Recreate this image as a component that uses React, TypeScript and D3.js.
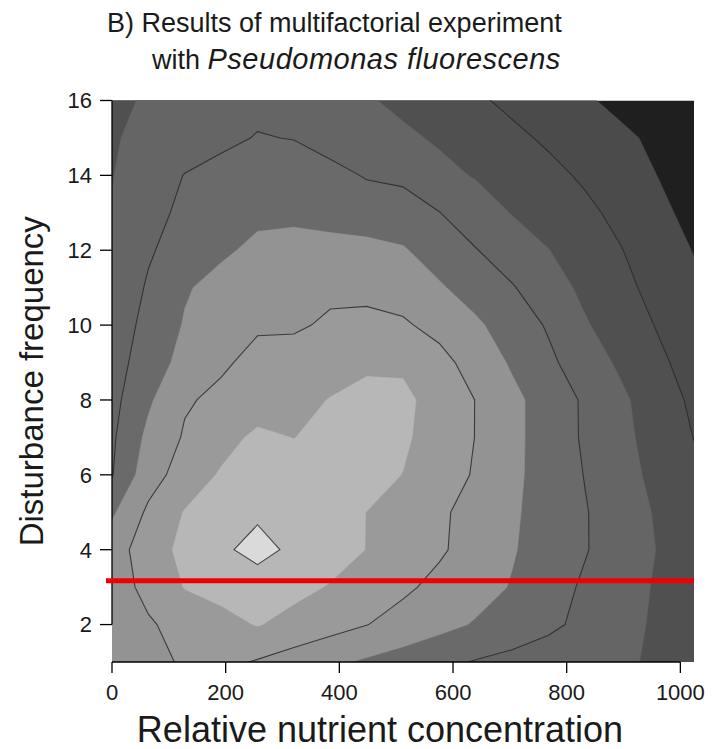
import React from "react";
import * as d3 from "d3";

// Grid of the experiment: nutrient concentration (columns) x disturbance frequency (rows, top to bottom)
const nutrient = [0, 64, 128, 192, 256, 320, 384, 448, 512, 576, 640, 704, 768, 832, 896, 960, 1024];
const frequency = [16, 15, 14, 13, 12, 11, 10, 9, 8, 7, 6, 5, 4, 3, 2, 1];

// Response surface (contour level index), one row per frequency
const row16 = [2.8, 3.1, 3.3, 3.55, 3.75, 3.7, 3.35, 3.09, 2.79, 2.46, 2.14, 1.8, 1.46, 1.11, 0.77, 0.43, 0.1];
const row15 = [2.93, 3.21, 3.5, 3.79, 4.05, 3.97, 3.67, 3.41, 3.17, 2.88, 2.54, 2.2, 1.86, 1.51, 1.17, 0.82, 0.48];
const row14 = [2.97, 3.49, 4.03, 4.3, 4.5, 4.5, 4.25, 3.94, 3.8, 3.26, 2.93, 2.58, 2.24, 1.87, 1.43, 0.99, 0.55];
const row13 = [3.06, 3.7, 4.2, 4.55, 4.8, 4.78, 4.55, 4.45, 4.45, 4.02, 3.49, 2.96, 2.58, 2.2, 1.76, 1.23, 0.72];
const row12 = [3.19, 3.9, 4.41, 4.85, 5.2, 5.35, 5.4, 5.3, 5.08, 4.57, 4.04, 3.51, 3.02, 2.51, 2.03, 1.49, 0.96];
const row11 = [3.32, 4.1, 4.91, 5.3, 5.55, 5.72, 5.8, 5.8, 5.6, 5.1, 4.6, 4.07, 3.43, 2.79, 2.25, 1.7, 1.2];
const row10 = [3.45, 4.29, 5.07, 5.33, 5.9, 5.86, 6.15, 6.2, 6.12, 5.71, 5.15, 4.54, 3.9, 3.09, 2.51, 1.94, 1.45];
const row9 = [3.58, 4.5, 5.31, 5.87, 6.25, 6.45, 6.65, 6.85, 6.85, 6.3, 5.61, 4.88, 4.19, 3.49, 2.83, 2.19, 1.62];
const row8 = [3.71, 4.85, 5.9, 6.2, 6.48, 6.75, 7.03, 7.25, 7.2, 6.64, 5.98, 5.24, 4.56, 3.87, 3.17, 2.48, 1.82];
const row7 = [3.85, 5.23, 6.1, 6.64, 7.2, 6.98, 7.35, 7.5, 7.15, 6.55, 5.98, 5.24, 4.56, 3.88, 3.25, 2.6, 1.98];
const row6 = [3.95, 5.57, 6.44, 7.1, 7.4, 7.5, 7.55, 7.4, 6.98, 6.45, 5.91, 5.21, 4.58, 3.97, 3.36, 2.73, 2.2];
const row5 = [4.85, 6.18, 7.05, 7.45, 7.8, 7.6, 7.35, 6.99, 6.57, 6.15, 5.67, 5.13, 4.6, 4.06, 3.48, 2.9, 2.4];
const row4 = [5.55, 6.5, 7.26, 7.78, 8.4, 7.75, 7.4, 6.98, 6.55, 6.12, 5.62, 5.07, 4.57, 4.06, 3.52, 2.97, 2.5];
const row3 = [5.55, 6.26, 7.04, 7.3, 7.4, 7.25, 6.94, 6.55, 6.16, 5.76, 5.36, 4.94, 4.4, 3.87, 3.39, 2.9, 2.45];
const row2 = [5.5, 5.9, 6.32, 6.7, 7.05, 6.7, 6.36, 6.02, 5.66, 5.28, 4.92, 4.55, 4.19, 3.77, 3.32, 2.85, 2.4];
const row1 = [5.45, 5.75, 6.1, 6.25, 5.92, 5.56, 5.2, 4.86, 4.55, 4.23, 3.94, 3.73, 3.52, 3.31, 3.1, 2.9, 2.6];
const surface = [row16, row15, row14, row13, row12, row11, row10, row9, row8, row7, row6, row5, row4, row3, row2, row1];

const fillLevels = [1, 2, 3, 4, 5, 6, 7, 8];
const lineLevels = [2, 4, 6, 8];
const bandColors = ["#1f1f1f", "#4b4b4b", "#505050", "#656565", "#6a6a6a", "#939393", "#9a9a9a", "#b7b7b7", "#dadada"];

const xTicks = [0, 200, 400, 600, 800, 1000];
const yTicks = [2, 4, 6, 8, 10, 12, 14, 16];
const markerFrequency = 3.17;

const W = 715;
const H = 749;
const left = 112;
const right = 694;
const top = 100.5;
const bottom = 662;
const FONT = "'Liberation Sans', Arial, Helvetica, sans-serif";

export default function App() {
  const x = d3.scaleLinear().domain([0, 1024]).range([left, right]);
  const y = d3.scaleLinear().domain([1, 16]).range([bottom, top]);

  const nx = nutrient.length;
  const ny = frequency.length;
  const values = surface.flat();
  const contours = d3.contours().size([nx, ny]).thresholds(fillLevels)(values);

  const gx = d3.scaleLinear().domain([0.5, nx - 0.5]).range([x(nutrient[0]), x(nutrient[nx - 1])]);
  const gy = d3.scaleLinear().domain([0.5, ny - 0.5]).range([y(frequency[0]), y(frequency[ny - 1])]);
  const path = d3.geoPath(
    d3.geoTransform({
      point(px: number, py: number) {
        (this as any).stream.point(gx(px), gy(py));
      },
    })
  );

  return (
    <svg width={W} height={H} style={{ position: "absolute", left: 0, top: 0, background: "#fff" }}>
      <defs>
        <clipPath id="plotClip">
          <rect x={left} y={top} width={right - left} height={bottom - top} />
        </clipPath>
      </defs>

      <text x={107} y={32} fontFamily={FONT} fontSize={27} fill="#1a1a1a">
        B) Results of multifactorial experiment
      </text>
      <text x={152} y={69} fontFamily={FONT} fontSize={27} fill="#1a1a1a">
        with{" "}
        <tspan fontStyle="italic" fontSize={29} letterSpacing={0.5}>
          Pseudomonas fluorescens
        </tspan>
      </text>

      <g clipPath="url(#plotClip)">
        <rect x={left} y={top} width={right - left} height={bottom - top} fill={bandColors[0]} />
        {contours.map((c, i) => (
          <path key={"f" + i} d={path(c as any) || ""} fill={bandColors[i + 1]} stroke={bandColors[i + 1]} strokeWidth={0.6} />
        ))}
        {contours
          .filter((c) => lineLevels.includes(c.value))
          .map((c, i) => (
            <path key={"l" + i} d={path(c as any) || ""} fill="none" stroke="#2a2a2a" strokeOpacity={0.85} strokeWidth={1.1} />
          ))}
      </g>

      {/* y axis */}
      <line x1={left} x2={left} y1={y(2)} y2={y(16)} stroke="#000" strokeWidth={1.3} />
      {yTicks.map((t) => (
        <g key={"yt" + t}>
          <line x1={left - 12} x2={left} y1={y(t)} y2={y(t)} stroke="#000" strokeWidth={1.3} />
          <text x={left - 20} y={y(t)} dy="0.36em" textAnchor="end" fontFamily={FONT} fontSize={22} fill="#1a1a1a">
            {t}
          </text>
        </g>
      ))}

      {/* x axis */}
      <line x1={x(0)} x2={x(1000)} y1={bottom} y2={bottom} stroke="#000" strokeWidth={1.3} />
      {xTicks.map((t) => (
        <g key={"xt" + t}>
          <line x1={x(t)} x2={x(t)} y1={bottom} y2={bottom + 11} stroke="#000" strokeWidth={1.3} />
          <text x={x(t)} y={700} textAnchor="middle" fontFamily={FONT} fontSize={22} fill="#1a1a1a">
            {t}
          </text>
        </g>
      ))}

      {/* threshold marker */}
      <line x1={106} x2={right} y1={y(markerFrequency)} y2={y(markerFrequency)} stroke="#f00000" strokeWidth={5} />

      <text x={380} y={742} textAnchor="middle" fontFamily={FONT} fontSize={36} fill="#1a1a1a">
        Relative nutrient concentration
      </text>
      <text
        transform={`translate(43, ${(top + bottom) / 2}) rotate(-90)`}
        textAnchor="middle"
        fontFamily={FONT}
        fontSize={33}
        fill="#1a1a1a"
      >
        Disturbance frequency
      </text>
    </svg>
  );
}
